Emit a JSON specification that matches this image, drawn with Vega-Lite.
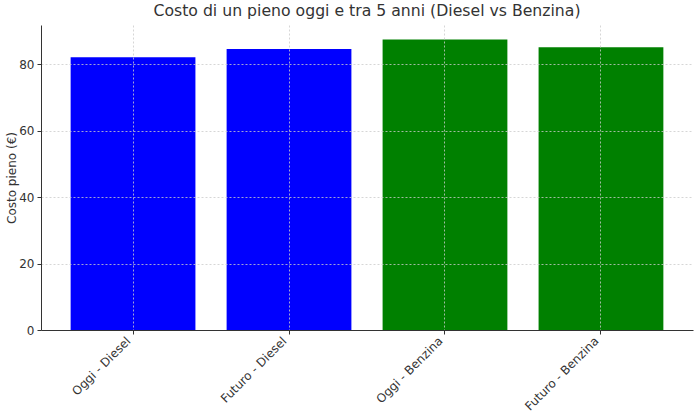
{
  "$schema": "https://vega.github.io/schema/vega-lite/v6.json",
  "width": 652,
  "height": 305,
  "padding": {"left": 5, "top": 3, "right": 7, "bottom": 0},
  "background": "white",
  "title": {
    "text": "Costo di un pieno oggi e tra 5 anni (Diesel vs Benzina)",
    "font": "DejaVu Sans",
    "fontSize": 15.7,
    "fontWeight": "normal",
    "color": "#333333",
    "offset": 5
  },
  "config": {
    "view": {"stroke": null},
    "font": "DejaVu Sans"
  },
  "data": {
    "values": [
      {"categoria": "Oggi - Diesel", "costo": 82.1, "carburante": "Diesel"},
      {"categoria": "Futuro - Diesel", "costo": 84.6, "carburante": "Diesel"},
      {"categoria": "Oggi - Benzina", "costo": 87.4, "carburante": "Benzina"},
      {"categoria": "Futuro - Benzina", "costo": 85.1, "carburante": "Benzina"}
    ]
  },
  "mark": {"type": "bar"},
  "encoding": {
    "x": {
      "field": "categoria",
      "type": "nominal",
      "sort": null,
      "scale": {"paddingInner": 0.2, "paddingOuter": 0.19},
      "axis": {
        "title": null,
        "labelAngle": -45,
        "labelAlign": "right",
        "labelBaseline": "top",
        "labelFontSize": 12,
        "labelColor": "#333333",
        "labelPadding": 1,
        "labelOffset": -8,
        "domainColor": "#333333",
        "tickColor": "#333333",
        "tickSize": 4,
        "grid": true,
        "gridColor": "#cccccc",
        "gridDash": [2, 2],
        "gridWidth": 0.8,
        "bandPosition": 0.5,
        "zindex": 1
      }
    },
    "y": {
      "field": "costo",
      "type": "quantitative",
      "scale": {"domain": [0, 91.8], "nice": false},
      "axis": {
        "title": "Costo pieno (€)",
        "titleFontSize": 12,
        "titleFontWeight": "normal",
        "titleColor": "#333333",
        "titlePadding": 0,
        "values": [0, 20, 40, 60, 80],
        "labelFontSize": 12,
        "labelColor": "#333333",
        "labelPadding": 3,
        "domainColor": "#333333",
        "tickColor": "#333333",
        "tickSize": 4,
        "grid": true,
        "gridColor": "#cccccc",
        "gridDash": [2, 2],
        "gridWidth": 0.8,
        "zindex": 1
      }
    },
    "color": {
      "field": "carburante",
      "type": "nominal",
      "scale": {"domain": ["Diesel", "Benzina"], "range": ["#0000ff", "#008000"]},
      "legend": null
    }
  }
}
